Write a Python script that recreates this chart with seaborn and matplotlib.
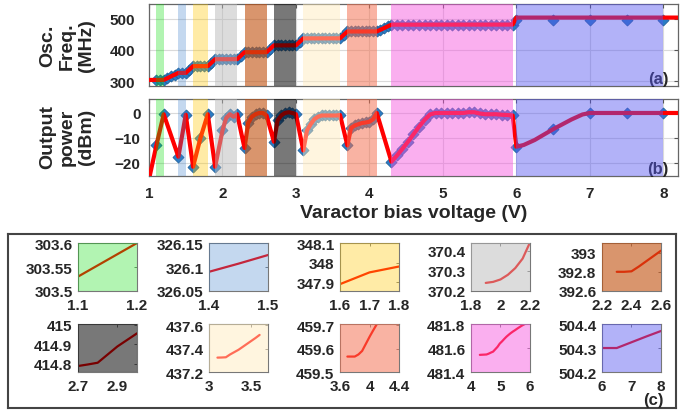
import matplotlib
matplotlib.use('Agg')
import matplotlib.pyplot as plt
import seaborn as sns
import pandas as pd
from matplotlib.patches import Rectangle

sns.set_style('white')
plt.rcParams['font.family'] = ['Liberation Sans', 'DejaVu Sans']
plt.rcParams['font.weight'] = 'bold'

# ---- data ----
# panel (a): oscillation frequency, markers (measured points)
freq_v = [1.1, 1.15, 1.2, 1.25, 1.3, 1.35, 1.4, 1.45, 1.5, 1.55,
          1.6, 1.65, 1.7, 1.75, 1.8, 1.85, 1.9, 1.95, 2.0, 2.05,
          2.1, 2.15, 2.2, 2.25, 2.3, 2.35, 2.4, 2.45, 2.5, 2.55,
          2.6, 2.65, 2.7, 2.75, 2.8, 2.85, 2.9, 2.95, 3.0, 3.05,
          3.1, 3.15, 3.2, 3.25, 3.3, 3.35, 3.4, 3.45, 3.5, 3.55,
          3.6, 3.65, 3.7, 3.75, 3.8, 3.85, 3.9, 3.95, 4.0, 4.05,
          4.1, 4.15, 4.2, 4.25, 4.3, 4.375, 4.45, 4.525, 4.6, 4.675,
          4.75, 4.825, 4.9, 4.975, 5.05, 5.125, 5.2, 5.275, 5.35, 5.425,
          5.5, 5.575, 5.65, 5.725, 5.8, 5.875, 5.95]
freq_mhz = [303.53, 303.565, 303.6, 309.0, 315.0, 320.5, 326.09, 326.107, 326.125, 337.0,
            347.89, 347.92, 347.95, 347.965, 347.98, 359.0, 370.24, 370.245, 370.257, 370.28,
            370.313, 370.36, 370.44, 381.5, 392.8, 392.8, 392.805, 392.855, 392.91, 392.965,
            393.02, 404.0, 414.788, 414.796, 414.805, 414.847, 414.889, 414.923, 414.957, 426.0,
            437.323, 437.324, 437.326, 437.35, 437.37, 437.39, 437.415, 437.44, 437.465, 437.49,
            437.517, 448.5, 459.566, 459.566, 459.566, 459.575, 459.59, 459.62, 459.65, 459.678,
            459.705, 465.0, 470.5, 476.0, 481.543, 481.544, 481.545, 481.546, 481.553, 481.562,
            481.57, 481.59, 481.61, 481.637, 481.655, 481.675, 481.694, 481.71, 481.725, 481.738,
            481.75, 481.763, 481.775, 481.787, 481.797, 481.805, 481.81]
freq_tail_v = [6.0, 6.5, 7.0, 7.5, 8.0]
freq_tail_mhz = [496, 496, 496, 496, 496]
freq_line_head_v, freq_line_head_mhz = [1.0], [303.4]
freq_line_tail_v, freq_line_tail_mhz = [6.0, 8.2], [504.3, 504.3]

# panel (b): output power
pow_v = [1.1, 1.2, 1.4, 1.5, 1.6, 1.7, 1.8, 1.9, 2.0, 2.05,
         2.1, 2.15, 2.2, 2.3, 2.35, 2.4, 2.45, 2.5, 2.55, 2.6,
         2.7, 2.75, 2.8, 2.85, 2.9, 2.95, 3.0, 3.1, 3.15, 3.2,
         3.25, 3.3, 3.35, 3.4, 3.45, 3.5, 3.55, 3.6, 3.7, 3.75,
         3.8, 3.85, 3.9, 3.95, 4.0, 4.05, 4.1, 4.3, 4.375, 4.45,
         4.525, 4.6, 4.675, 4.75, 4.825, 4.9, 4.975, 5.05, 5.125, 5.2,
         5.275, 5.35, 5.425, 5.5, 5.575, 5.65, 5.725, 5.8, 5.875, 5.95]
pow_dbm = [-13, -0.5, -17.5, -0.7, -21.5, -10, -0.5, -21.5, -7, -2,
           -0.5, -1.5, -0.5, -14, -4, -1.5, -0.5, 0, 0, -1,
           -11.5, -3, -1, 0, 0.3, 0, -0.5, -15, -7, -4.5,
           -2.5, -1.5, -1, -1, -1, -1, -1, -0.8, -13, -6,
           -5, -4.5, -4, -3.8, -3.5, -2.5, 0, -19.5, -17, -14.3,
           -11.5, -8.5, -5.5, -2.8, -0.6, 0, 0, 0, 0, 0,
           0, 0.3, 0.3, -0.2, -0.5, -0.5, -0.5, -0.7, -0.8, -1]
pow_tail_v = [6.0, 6.5, 7.0, 7.5, 8.0]
pow_tail_dbm = [-13.5, -6.5, 0, 0, 0]
pow_line_head_v, pow_line_head_dbm = [1.0], [-26.5]
pow_line_tail_v = [6.0, 6.1, 6.25, 6.5, 6.75, 6.9, 7.0, 8.2]
pow_line_tail_dbm = [-13.5, -12.8, -10.8, -6.5, -2.6, -0.6, 0, 0]

# shaded voltage ranges
band_lo = [1.1, 1.4, 1.6, 1.9, 2.3, 2.7, 3.1, 3.7, 4.3, 6.0]
band_hi = [1.2, 1.5, 1.8, 2.2, 2.6, 3.0, 3.6, 4.1, 5.95, 8.0]
band_color = ['#00dc00', '#3e80ca', '#ffc800', '#b9b9b9', '#c15211',
              '#000000', '#ffeabb', '#f47151', '#f555df', '#5757f0']
band_alpha = [0.30, 0.30, 0.35, 0.49, 0.61, 0.53, 0.47, 0.53, 0.47, 0.46]

# zoomed insets (c)
inset_xlim = [(1.1, 1.2), (1.4, 1.5), (1.6, 1.8), (1.8, 2.2), (2.2, 2.6),
              (2.7, 3.0), (3.0, 3.7), (3.6, 4.4), (4, 6), (6, 8)]
inset_xticks = [[1.1, 1.2], [1.4, 1.5], [1.6, 1.7, 1.8], [1.8, 2, 2.2], [2.2, 2.4, 2.6],
                [2.7, 2.9], [3, 3.5], [3.6, 4, 4.4], [4, 5, 6], [6, 7, 8]]
inset_ylim = [(303.5, 303.6), (326.05, 326.15), (347.855, 348.1), (370.2, 370.437),
              (392.6, 393.1), (414.757, 415.005), (437.2, 437.61), (459.5, 459.705),
              (481.4, 481.8), (504.2, 504.4)]
inset_yticks = [[303.5, 303.55, 303.6], [326.05, 326.1, 326.15], [347.9, 348, 348.1],
                [370.2, 370.3, 370.4], [392.6, 392.8, 393], [414.8, 414.9, 415],
                [437.2, 437.4, 437.6], [459.5, 459.6, 459.7], [481.4, 481.6, 481.8],
                [504.2, 504.3, 504.4]]
hi_band_v = [6.0, 6.5, 7.0, 7.5, 8.0]
hi_band_mhz = [504.3, 504.3, 504.324, 504.348, 504.371]

mk_color = '#2a7bc4'
mk_edge = '#1b5a94'

fig = plt.figure(figsize=(6.96, 4.14), dpi=100)
ax_a = fig.add_axes([0.2141, 0.7899, 0.760, 0.198])
ax_b = fig.add_axes([0.2141, 0.5725, 0.760, 0.186])


def style_main(ax):
    ax.set_xlim(1, 8.2)
    ax.set_xticks([1, 2, 3, 4, 5, 6, 7, 8])
    ax.grid(True, color='#dadada', lw=0.8)
    ax.set_axisbelow(True)
    ax.tick_params(direction='in', top=True, right=True, length=3, width=0.8,
                   labelsize=11, color='#555555')
    for s in ax.spines.values():
        s.set_color('#666666')
        s.set_linewidth(0.9)
    for lo, hi, c, a in zip(band_lo, band_hi, band_color, band_alpha):
        ax.axvspan(lo, hi, color=c, alpha=a, lw=0, zorder=4)


# (a) frequency
fa = pd.DataFrame({'V': freq_v + freq_tail_v, 'F': freq_mhz + freq_tail_mhz})
sns.scatterplot(data=fa, x='V', y='F', marker='D', s=32, color=mk_color,
                edgecolor=mk_edge, linewidth=0.5, ax=ax_a, zorder=2)
sns.lineplot(x=freq_line_head_v + freq_v + freq_line_tail_v,
             y=freq_line_head_mhz + freq_mhz + freq_line_tail_mhz,
             color='#ff0000', lw=3, estimator=None, sort=False, ax=ax_a, zorder=3)
style_main(ax_a)
ax_a.set_ylim(284, 548)
ax_a.set_yticks([300, 400, 500])
ax_a.tick_params(axis='x', labelbottom=False)
ax_a.tick_params(axis='y', pad=10)
ax_a.set_xlabel('')
ax_a.set_ylabel('')
ax_a.text(0.982, 0.0, '(a)', transform=ax_a.transAxes, ha='right', va='bottom',
          fontsize=12, fontweight='bold', zorder=3)

# (b) output power
pb = pd.DataFrame({'V': pow_v + pow_tail_v, 'P': pow_dbm + pow_tail_dbm})
sns.scatterplot(data=pb, x='V', y='P', marker='D', s=32, color=mk_color,
                edgecolor=mk_edge, linewidth=0.5, ax=ax_b, zorder=2)
sns.lineplot(x=pow_line_head_v + pow_v + pow_line_tail_v,
             y=pow_line_head_dbm + pow_dbm + pow_line_tail_dbm,
             color='#ff0000', lw=3, estimator=None, sort=False, ax=ax_b, zorder=3)
style_main(ax_b)
ax_b.set_ylim(-25.2, 5.6)
ax_b.set_yticks([-20, -10, 0])
ax_b.tick_params(axis='y', pad=6)
ax_b.tick_params(axis='x', pad=7)
ax_b.set_ylabel('')
ax_b.set_xlabel('Varactor bias voltage (V)', fontsize=14, fontweight='bold', labelpad=3)
ax_b.text(0.982, 0.0, '(b)', transform=ax_b.transAxes, ha='right', va='bottom',
          fontsize=12, fontweight='bold', zorder=3)

fig.text(0.0963, 0.889, 'Osc.\nFreq.\n(MHz)', rotation=90, ha='center', va='center',
         multialignment='center', fontsize=14, fontweight='bold')
fig.text(0.0963, 0.669, 'Output\npower\n(dBm)', rotation=90, ha='center', va='center',
         multialignment='center', fontsize=14, fontweight='bold')

# (c) frame with zoomed insets
frame = fig.add_axes([0.0115, 0.0121, 0.9598, 0.4203])
frame.set_xticks([])
frame.set_yticks([])
for s in frame.spines.values():
    s.set_color('#444444')
    s.set_linewidth(1.5)
frame.text(0.982, 0.005, '(c)', transform=frame.transAxes, ha='right', va='bottom',
           fontsize=12, fontweight='bold')

col_left = [0.1121, 0.3003, 0.4885, 0.6767, 0.8649]
row_bottom = [0.2947, 0.0990]
for i in range(10):
    ax = fig.add_axes([col_left[i % 5], row_bottom[i // 5], 0.0848, 0.1159])
    if i < 9:
        xs = [v for v in freq_v if band_lo[i] - 1e-9 <= v <= band_hi[i] + 1e-9]
        ys = [f for v, f in zip(freq_v, freq_mhz) if band_lo[i] - 1e-9 <= v <= band_hi[i] + 1e-9]
    else:
        xs, ys = hi_band_v, hi_band_mhz
    sns.lineplot(x=xs, y=ys, color='#ff0000', lw=1.6, estimator=None, sort=False,
                 ax=ax, zorder=2)
    ax.add_patch(Rectangle((0, 0), 1, 1, transform=ax.transAxes, color=band_color[i],
                           alpha=band_alpha[i], lw=0, zorder=3))
    ax.set_xlim(*inset_xlim[i])
    ax.set_ylim(*inset_ylim[i])
    ax.set_xticks(inset_xticks[i], labels=[str(t) for t in inset_xticks[i]])
    ax.set_yticks(inset_yticks[i], labels=[str(t) for t in inset_yticks[i]])
    ax.tick_params(direction='in', top=True, right=True, length=2, width=0.6,
                   labelsize=11, color='#666666')
    ax.tick_params(axis='x', pad=5)
    ax.tick_params(axis='y', pad=4)
    ax.set_xlabel('')
    ax.set_ylabel('')
    for s in ax.spines.values():
        s.set_color('#777777')
        s.set_linewidth(0.8)

fig.savefig('out.png', dpi=100)
